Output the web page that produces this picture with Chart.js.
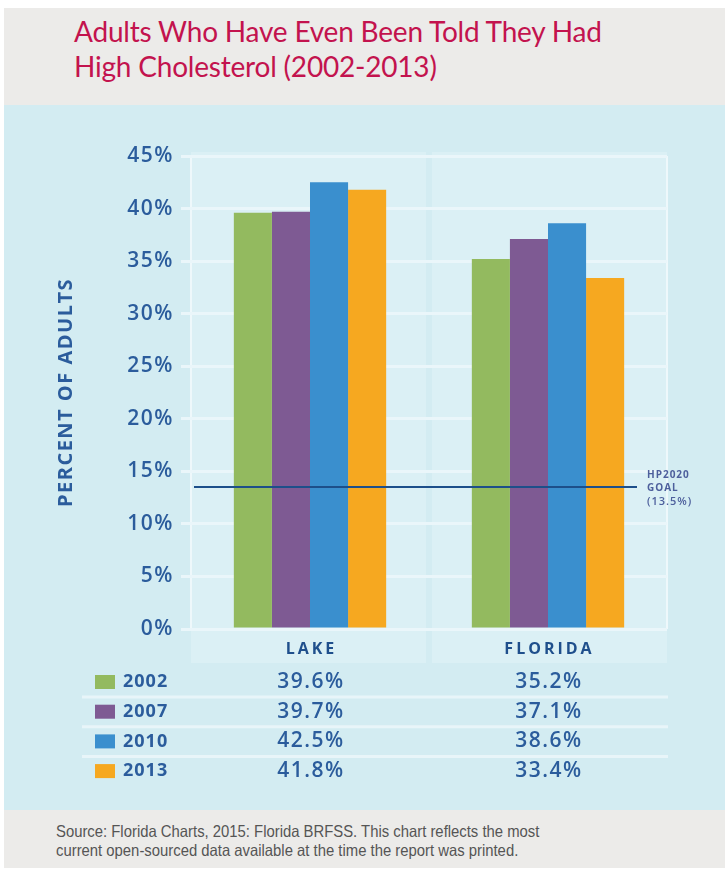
<!DOCTYPE html>
<html>
<head>
<meta charset="utf-8">
<script src="https://cdn.jsdelivr.net/npm/chart.js@4.4.1/dist/chart.umd.min.js"></script>
<style>
	body { margin: 0; background: #fff; width: 725px; height: 869px; position: relative; overflow: hidden; }
	#header { position: absolute; left: 4px; top: 8px; width: 721px; height: 97px; background: #ecebe9; }
	#panel { position: absolute; left: 4px; top: 105px; width: 721px; height: 705px; background: #d3ecf2; }
	#footer { position: absolute; left: 4px; top: 810px; width: 721px; height: 58px; background: #ecebe9; }
	#title { position: absolute; left: 74px; top: 14px; font-family: Lato, sans-serif; font-size: 28px; line-height: 35px; color: #c3134e; letter-spacing: -0.2px; }
	#source { position: absolute; left: 56px; top: 822px; font-family: "Liberation Sans Narrow", "Liberation Sans", sans-serif; font-size: 16.5px; line-height: 19px; color: #555; transform: scaleX(0.9); transform-origin: left top; white-space: nowrap; }
	#chart { position: absolute; left: 0; top: 0; }
</style>
</head>
<body>
<div id="header"></div>
<div id="panel"></div>
<div id="footer"></div>
<div id="title">Adults Who Have Even Been Told They Had<br>High Cholesterol (2002-2013)</div>
<div id="source">Source: Florida Charts, 2015: Florida BRFSS. This chart reflects the most<br>current open-sourced data available at the time the report was printed.</div>
<canvas id="chart" width="725" height="869"></canvas>
<script>
const categories = ['LAKE', 'FLORIDA'];
const years = ['2002', '2007', '2010', '2013'];
const values2002 = [39.6, 35.2];
const values2007 = [39.7, 37.1];
const values2010 = [42.5, 38.6];
const values2013 = [41.8, 33.4];
const goalValue = 13.5;
const goalLabel = ['HP2020', 'GOAL', '(13.5%)'];
const yMax = 45;
const yStep = 5;

const colors = ['#93ba5f', '#7e5a93', '#3a8fce', '#f6a820'];
const textBlue = '#2b5c9c';
const seriesValues = [values2002, values2007, values2010, values2013];

function fmt(v) {
	return v.toFixed(1) + '%';
}

const panelPlugin = {
	id: 'panel',
	beforeDraw(chart) {
		const ctx = chart.ctx;
		const area = chart.chartArea;
		const x = chart.scales.x;
		const mid = (x.getPixelForValue(0) + x.getPixelForValue(1)) / 2;
		ctx.save();
		ctx.fillStyle = '#dbf0f5';
		ctx.fillRect(area.left, area.top - 4, mid - 3 - area.left, area.bottom - area.top + 38);
		ctx.fillRect(mid + 3, area.top - 4, area.right - mid - 3, area.bottom - area.top + 38);
		ctx.restore();
		ctx.letterSpacing = '1.5px';
	},
	afterDatasetsDraw(chart) {
		const ctx = chart.ctx;
		const area = chart.chartArea;
		const x = chart.scales.x;
		const y = chart.scales.y;

		// goal line
		const gy = y.getPixelForValue(goalValue);
		ctx.save();
		ctx.strokeStyle = '#1d4f8a';
		ctx.lineWidth = 2;
		ctx.beginPath();
		ctx.moveTo(area.left + 3, gy);
		ctx.lineTo(area.right - 30, gy);
		ctx.stroke();
		ctx.fillStyle = '#4d5f9c';
		ctx.font = 'bold 10px "Open Sans", sans-serif';
		ctx.letterSpacing = '1px';
		ctx.textAlign = 'left';
		ctx.textBaseline = 'middle';
		ctx.fillText(goalLabel[0], area.right - 20, gy - 12);
		ctx.fillText(goalLabel[1], area.right - 20, gy + 1);
		ctx.font = '600 11px "Open Sans", sans-serif';
		ctx.fillText(goalLabel[2], area.right - 20, gy + 15);

		// category labels
		ctx.fillStyle = '#1f4f8c';
		ctx.font = 'bold 16px "Open Sans", sans-serif';
		ctx.letterSpacing = '3px';
		ctx.textAlign = 'center';
		categories.forEach((c, i) => {
			ctx.fillText(c, x.getPixelForValue(i) + 1.5, area.bottom + 20);
		});

		// data table
		const rowTop = area.bottom + 53;
		const rowStep = 29.7;
		ctx.strokeStyle = '#e8f5f9';
		ctx.lineWidth = 3;
		for (let r = 0; r < years.length; r++) {
			const cy = rowTop + r * rowStep;
			ctx.fillStyle = colors[r];
			ctx.fillRect(95, cy - 7, 20, 14);
			ctx.fillStyle = textBlue;
			ctx.font = 'bold 18px "Open Sans", sans-serif';
			ctx.letterSpacing = '1px';
			ctx.textAlign = 'left';
			ctx.fillText(years[r], 123, cy);
			ctx.font = '600 21px "Open Sans", sans-serif';
			ctx.letterSpacing = '1.5px';
			ctx.textAlign = 'center';
			seriesValues[r].forEach((v, i) => {
				ctx.fillText(fmt(v), x.getPixelForValue(i) + 1, cy);
			});
			if (r < years.length - 1) {
				ctx.beginPath();
				ctx.moveTo(82, cy + 15);
				ctx.lineTo(area.right + 1, cy + 15);
				ctx.stroke();
			}
		}
		ctx.restore();
	}
};

function init() {
	const config = {
		type: 'bar',
		data: {
			labels: categories,
			datasets: years.map((yr, i) => ({
				label: yr,
				data: seriesValues[i],
				backgroundColor: colors[i],
				borderWidth: 0
			}))
		},
		options: {
			responsive: false,
			animation: false,
			devicePixelRatio: 1,
			categoryPercentage: 0.64,
			barPercentage: 1.0,
			layout: { padding: { left: 0, top: 156, right: 58, bottom: 0 } },
			plugins: { legend: { display: false }, tooltip: { enabled: false } },
			scales: {
				x: {
					afterFit(scale) { scale.height = 240; },
					ticks: { display: false },
					border: { display: false },
					grid: {
						drawTicks: false,
						color: ctx => ctx.index === 1 ? 'rgba(0,0,0,0)' : '#eef8fb',
						lineWidth: ctx => ctx.index === 1 ? 0 : 2
					}
				},
				y: {
					min: 0,
					max: yMax,
					afterFit(scale) { scale.width = 191; },
					ticks: {
						stepSize: yStep,
						padding: 7,
						color: textBlue,
						font: { family: '"Open Sans", sans-serif', size: 21, weight: '600' },
						callback: v => v + '%'
					},
					border: { display: false },
					grid: { color: '#eaf6fa', lineWidth: 3, tickLength: 10 },
					title: {
						display: true,
						text: 'PERCENT OF ADULTS',
						color: textBlue,
						font: { family: '"Open Sans", sans-serif', size: 20, weight: 'bold' },
						padding: { top: 54, bottom: 0 }
					}
				}
			}
		},
		plugins: [panelPlugin]
	};
	new Chart(document.getElementById('chart'), config);
}

init();
</script>
</body>
</html>
